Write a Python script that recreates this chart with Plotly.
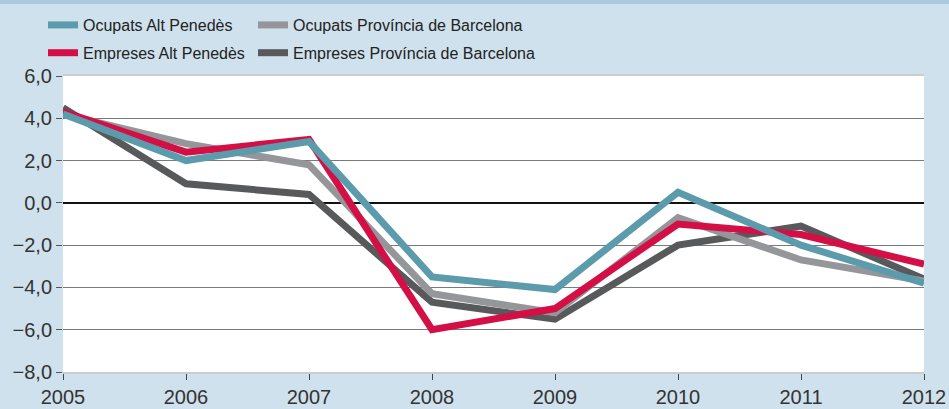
import plotly.graph_objects as go

years = [2005, 2006, 2007, 2008, 2009, 2010, 2011, 2012]
ocupats_ap = [4.2, 2.0, 2.9, -3.5, -4.1, 0.5, -2.0, -3.8]
empreses_ap = [4.3, 2.4, 3.0, -6.0, -5.0, -1.0, -1.5, -2.9]
ocupats_pb = [4.2, 2.8, 1.8, -4.3, -5.2, -0.7, -2.7, -3.7]
empreses_pb = [4.5, 0.9, 0.4, -4.7, -5.5, -2.0, -1.1, -3.6]

ytick_vals = [6, 4, 2, 0, -2, -4, -6, -8]
ytick_text = ["6,0", "4,0", "2,0", "0,0", "\u22122,0", "\u22124,0", "\u22126,0", "\u22128,0"]

FONT = "Liberation Sans"
fig = go.Figure()

series = [
    ("Empreses Província de Barcelona", empreses_pb, "#58595b", "legend2", 2),
    ("Ocupats Província de Barcelona", ocupats_pb, "#959699", "legend2", 1),
    ("Empreses Alt Penedès", empreses_ap, "#d40f46", "legend", 2),
    ("Ocupats Alt Penedès", ocupats_ap, "#5b9bac", "legend", 1),
]
for name, vals, col, leg, rank in series:
    fig.add_trace(go.Scatter(
        x=years, y=vals, mode="lines", name=name,
        line=dict(color=col, width=7),
        legend=leg, legendrank=rank, legendgroup=name,
    ))

H = 409.0
leg_font = dict(size=16, color="#222222", family=FONT)
fig.update_layout(
    width=949, height=409,
    paper_bgcolor="#cfe1ec", plot_bgcolor="#ffffff",
    margin=dict(l=63, r=25, t=76, b=37, autoexpand=False),
    font=dict(family=FONT, color="#333333", size=19),
    legend=dict(xref="container", yref="container", x=43 / 949, y=1 - 8 / H,
                xanchor="left", yanchor="top",
                bgcolor="rgba(0,0,0,0)", font=leg_font,
                tracegroupgap=4, traceorder="grouped"),
    legend2=dict(xref="container", yref="container", x=253 / 949, y=1 - 8 / H,
                 xanchor="left", yanchor="top",
                 bgcolor="rgba(0,0,0,0)", font=leg_font,
                 tracegroupgap=4, traceorder="grouped"),
    shapes=[dict(type="rect", xref="paper", yref="paper",
                 x0=-0.1, x1=1.1, y0=1 + 72 / 296, y1=1.3,
                 fillcolor="#a9c9dc", line=dict(width=0), layer="below")],
)
fig.update_xaxes(
    range=[2005, 2012], tickvals=years, ticktext=[str(y) for y in years],
    showgrid=False, ticks="outside", ticklen=6, tickcolor="#444444",
    showline=True, linecolor="#cccccc", linewidth=2, mirror=True,
    tickfont=dict(size=20, color="#333333"), zeroline=False, automargin=False,
)
fig.update_yaxes(
    range=[-8, 6], tickvals=ytick_vals, ticktext=ytick_text,
    showgrid=True, gridcolor="#7a7a7a", gridwidth=1,
    zeroline=True, zerolinecolor="#111111", zerolinewidth=2,
    ticks="outside", ticklen=6, tickcolor="#555555",
    showline=False, tickfont=dict(size=20, color="#333333"), automargin=False,
)
fig.write_html("out.html", config={"displayModeBar": False},
               post_script="document.body.style.margin='0';")
